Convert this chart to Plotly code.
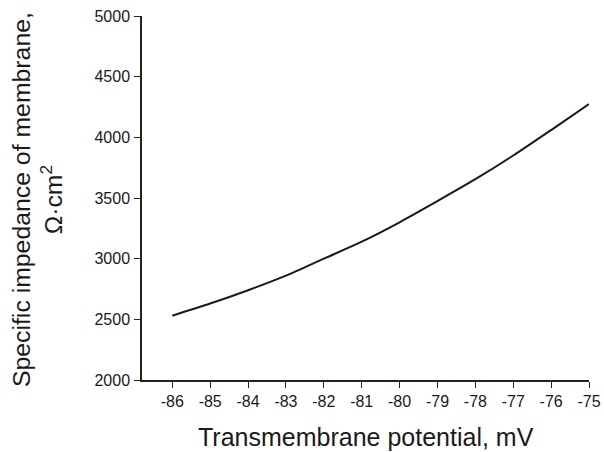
import plotly.graph_objects as go

potential_mV = [-86, -85, -84, -83, -82, -81, -80, -79, -78, -77, -76, -75]
impedance = [2530, 2630, 2740, 2860, 3000, 3140, 3300, 3475, 3655, 3850, 4060, 4275]
x_ticks = [-86, -85, -84, -83, -82, -81, -80, -79, -78, -77, -76, -75]
y_ticks = [2000, 2500, 3000, 3500, 4000, 4500, 5000]

FONT = "Liberation Sans, Arial, sans-serif"

fig = go.Figure()
fig.add_trace(go.Scatter(
    x=potential_mV, y=impedance, mode="lines",
    line=dict(color="#1a1a1a", width=2, shape="spline", smoothing=0.8),
    hoverinfo="skip", showlegend=False,
))

fig.update_layout(
    width=604, height=452,
    margin=dict(l=142, r=15, t=16, b=72, autoexpand=False),
    paper_bgcolor="white", plot_bgcolor="white",
    font=dict(family=FONT, color="#1a1a1a"),
    xaxis=dict(
        range=[-86.8, -75], tickvals=x_ticks, ticktext=[str(v) for v in x_ticks],
        showgrid=False, zeroline=False, showline=True, linecolor="#222", linewidth=1.5,
        ticks="outside", ticklen=6, tickwidth=1.2, tickcolor="#222",
        tickfont=dict(size=16, family=FONT, color="#1a1a1a"),
        ticklabelstandoff=0, automargin=False, ticklabeloverflow="allow",
    ),
    yaxis=dict(
        range=[2000, 5000], tickvals=y_ticks, ticktext=[str(v) for v in y_ticks],
        showgrid=False, zeroline=False, showline=True, linecolor="#222", linewidth=1.5,
        ticks="outside", ticklen=6, tickwidth=1.2, tickcolor="#222",
        tickfont=dict(size=16, family=FONT, color="#1a1a1a"),
        ticklabelstandoff=1, automargin=False, ticklabeloverflow="allow",
    ),
    annotations=[
        dict(text="Transmembrane potential, mV", xref="paper", yref="paper",
             x=0.5, y=-0.157, xanchor="center", yanchor="middle", showarrow=False,
             font=dict(size=25, family=FONT, color="#1a1a1a")),
        dict(text="Specific impedance of membrane,<br>Ω·cm<sup>2</sup>", xref="paper", yref="paper",
             x=-0.235, y=0.497, xanchor="center", yanchor="middle", showarrow=False, textangle=-90,
             font=dict(size=24.8, family=FONT, color="#1a1a1a")),
    ],
)

# remove the browser's default 8px body margin so the 604x452 figure fills the window exactly
fig.write_html("out.html", config={"displayModeBar": False},
               post_script="document.body.style.margin='0';document.body.style.overflow='hidden';")
